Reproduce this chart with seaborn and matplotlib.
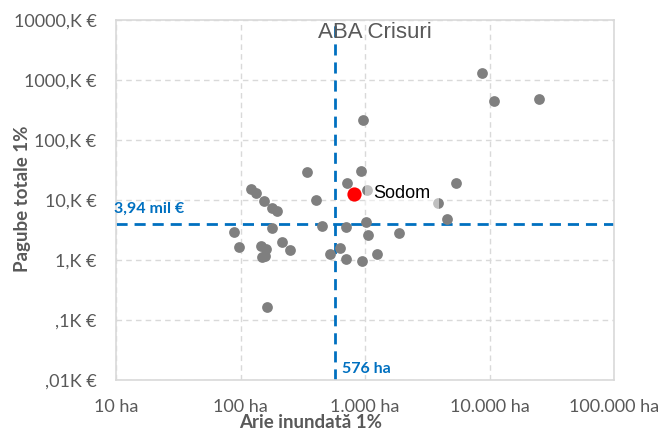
import matplotlib
matplotlib.use("Agg")
import matplotlib.pyplot as plt
import seaborn as sns
import pandas as pd

# Flood-risk areas: inundated area (ha) vs. total damages (thousand €) at 1% probability
area_ha = [121, 134, 154, 179, 198, 342, 406, 89, 98, 146, 159, 149, 156, 179,
           215, 250, 162, 452, 524, 634, 703, 703, 721, 929, 969, 1033, 1019,
           1062, 946, 1256, 1866, 3855, 4518, 5380, 8750, 10820, 25100]
damage_k = [15.1, 12.9, 9.8, 7.36, 6.5, 29.0, 10.0, 2.96, 1.65, 1.73, 1.51, 1.12,
            1.17, 3.35, 2.0, 1.46, 0.167, 3.69, 1.27, 1.6, 3.51, 1.03, 19.0, 30.4,
            213, 14.4, 4.22, 2.58, 0.97, 1.27, 2.80, 8.9, 4.82, 19.0, 1294, 452, 488]

highlight_name = "Sodom"
highlight_area = 817
highlight_damage = 12.7

median_area = 576
median_damage = 3.94

x_ticks = [10, 100, 1000, 10000, 100000]
x_labels = ["10 ha", "100 ha", "1.000 ha", "10.000 ha", "100.000 ha"]
y_ticks = [0.01, 0.1, 1, 10, 100, 1000, 10000]
y_labels = [",01K €", ",1K €", "1,K €", "10,K €", "100,K €", "1000,K €", "10000,K €"]

title = "ABA Crisuri"
x_title = "Arie inundată 1%"
y_title = "Pagube totale 1%"
median_damage_label = "3,94 mil €"
median_area_label = "576 ha"

sns.set_theme(style="white")
plt.rcParams["font.family"] = ["Lato", "DejaVu Sans"]

GRAY_TXT = "#595959"
BLUE = "#0070C0"
GRID = "#d9d9d9"

fig = plt.figure(figsize=(6.64, 4.34), dpi=100)
ax = fig.add_axes([116 / 664, 1 - 380 / 434, (614 - 116) / 664, 360 / 434])

df = pd.DataFrame({"area": area_ha, "damage": damage_k})
sns.scatterplot(data=df, x="area", y="damage", ax=ax, color="#7f7f7f",
                s=60, linewidth=0, zorder=3)
hl = pd.DataFrame({"area": [highlight_area], "damage": [highlight_damage]})
sns.scatterplot(data=hl, x="area", y="damage", ax=ax, color="#ff0000",
                s=105, linewidth=0, zorder=4)

ax.set_xscale("log")
ax.set_yscale("log")
ax.set_xlim(10, 100000)
ax.set_ylim(0.01, 10000)
ax.set_xticks(x_ticks)
ax.set_xticklabels(x_labels)
ax.set_yticks(y_ticks)
ax.set_yticklabels(y_labels)
ax.minorticks_off()
ax.tick_params(axis="both", length=0, labelsize=13, colors=GRAY_TXT)
ax.tick_params(axis="y", pad=14)
ax.tick_params(axis="x", pad=14)

ax.grid(True, which="major", color=GRID, linestyle=(0, (4, 3)), linewidth=1)
ax.set_axisbelow(True)
for sp in ax.spines.values():
    sp.set_color(GRID)
    sp.set_linewidth(1.2)

# Reference lines at the median values
ax.axvline(median_area, color=BLUE, linestyle=(0, (4, 2.5)), linewidth=2, zorder=2)
ax.axhline(median_damage, color=BLUE, linestyle=(0, (4, 2.5)), linewidth=2, zorder=2)

ax.annotate(median_damage_label, xy=(10, median_damage), xytext=(-1.5, 11),
            textcoords="offset points", ha="left", va="center",
            color=BLUE, fontsize=11.5, fontweight="bold", zorder=5)
ax.annotate(median_area_label, xy=(median_area, 0.01), xytext=(5, 8),
            textcoords="offset points", ha="left", va="center",
            color=BLUE, fontsize=11.5, fontweight="bold", zorder=5)

ax.annotate(highlight_name, xy=(highlight_area, highlight_damage), xytext=(14, 0),
            textcoords="offset points", ha="left", va="center",
            color="black", fontsize=13, family=["Liberation Sans", "DejaVu Sans"],
            bbox=dict(boxstyle="square,pad=0.45", facecolor="white",
                      edgecolor="none", alpha=0.5), zorder=5)

ax.text(0.52, (380 - 33) / 360, title, transform=ax.transAxes, ha="center",
        va="center", fontsize=16, color=GRAY_TXT,
        family=["Liberation Sans", "DejaVu Sans"])

ax.set_xlabel(x_title, fontsize=13.5, fontweight="bold", color=GRAY_TXT)
ax.set_ylabel(y_title, fontsize=13.5, fontweight="bold", color=GRAY_TXT)
ax.xaxis.set_label_coords((311 - 116) / 498, -(414 - 380) / 360)
ax.yaxis.set_label_coords(-(116 - 31) / 498, (380 - 199) / 360)

fig.savefig("out.png", dpi=100)
